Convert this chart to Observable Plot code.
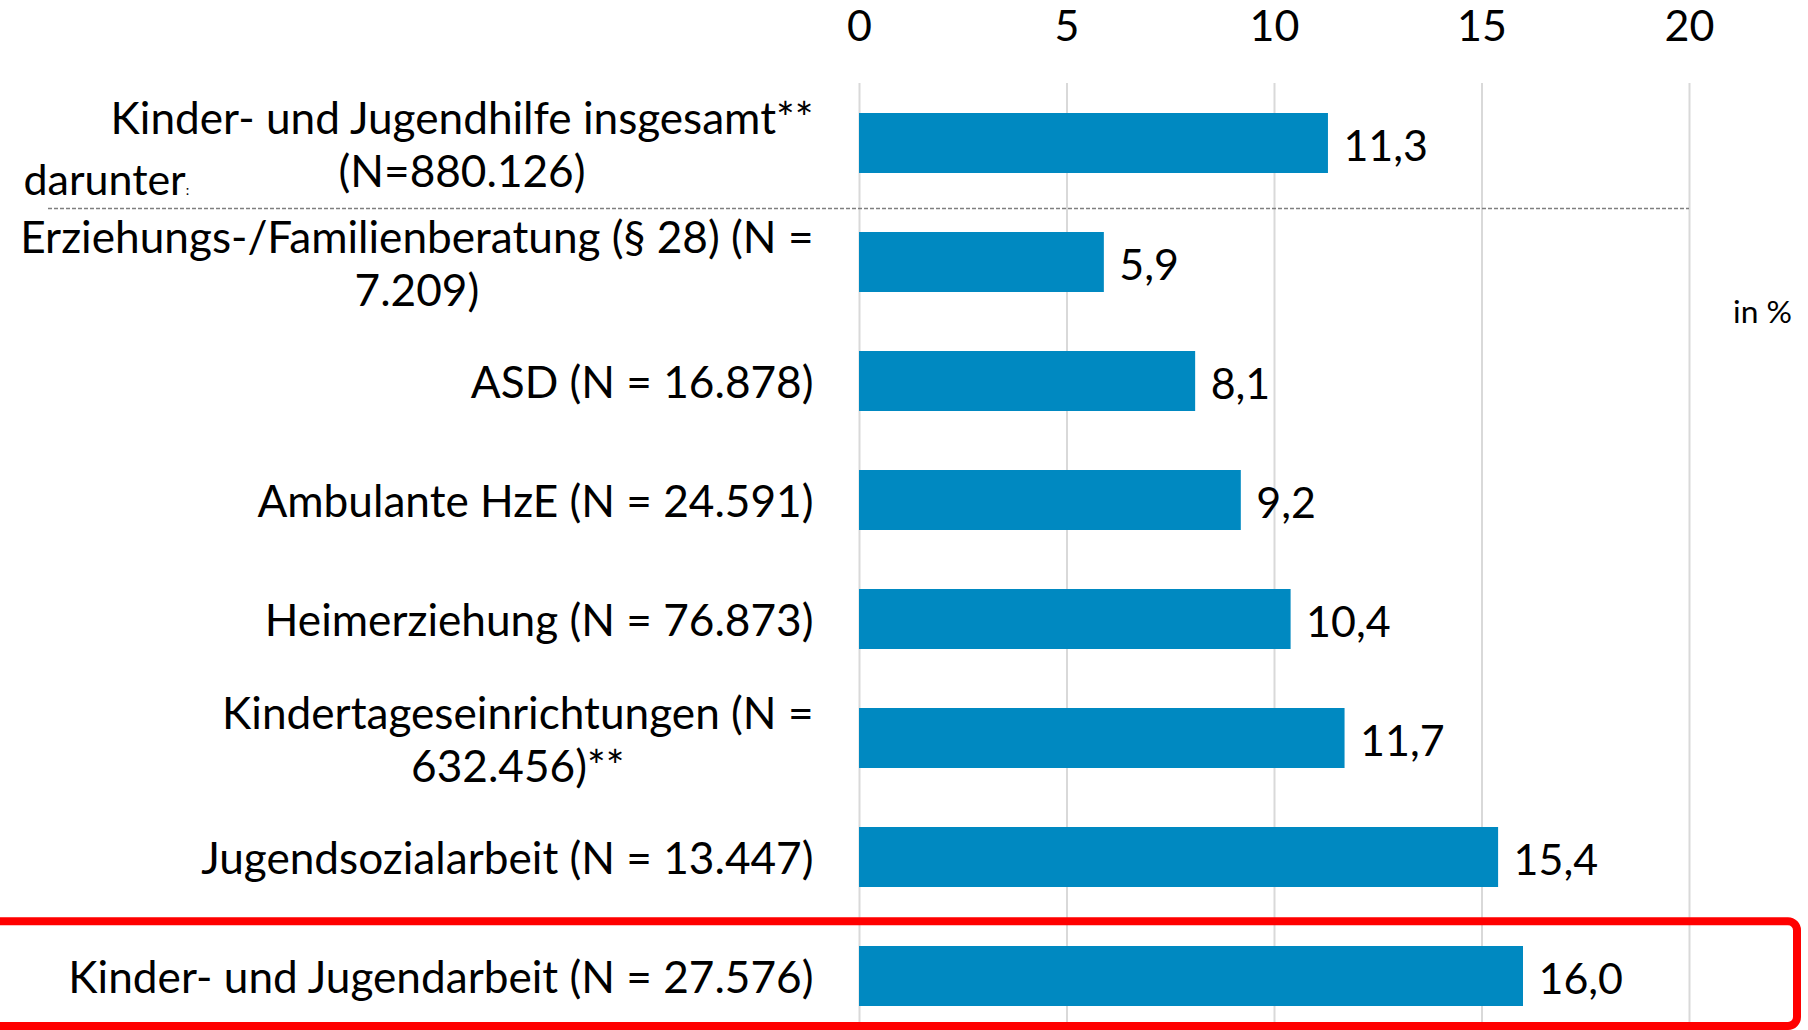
<!DOCTYPE html>
<html>
<head>
<meta charset="utf-8">
<script src="https://cdn.jsdelivr.net/npm/d3@7"></script>
<script src="https://cdn.jsdelivr.net/npm/@observablehq/plot@0.6"></script>
<style>
  html, body { margin: 0; padding: 0; background: #fff; }
  #chart { position: relative; width: 1808px; height: 1030px; overflow: hidden; background: #fff; }
  #chart svg { display: block; }
</style>
</head>
<body>
<div id="chart"></div>
<script>
// ---- data ----
const categories = [
  "Kinder- und Jugendhilfe insgesamt**\n(N=880.126)",
  "Erziehungs-/Familienberatung (§ 28) (N =\n7.209)",
  "ASD (N = 16.878)",
  "Ambulante HzE (N = 24.591)",
  "Heimerziehung (N = 76.873)",
  "Kindertageseinrichtungen (N =\n632.456)**",
  "Jugendsozialarbeit (N = 13.447)",
  "Kinder- und Jugendarbeit (N = 27.576)"
];
const values = [11.3, 5.9, 8.1, 9.2, 10.4, 11.7, 15.4, 16.0];
const xTicks = [0, 5, 10, 15, 20];
const xDomain = [0, 20];
const highlighted = ["Kinder- und Jugendarbeit (N = 27.576)"];
const separatorAfter = ["Kinder- und Jugendhilfe insgesamt**\n(N=880.126)"];
const unitLabel = ["in %"];
const groupLabel = ["darunter"];

// ---- layout / style ----
const W = 1808, H = 1030;
const FONT = "Lato, 'Open Sans', 'Noto Sans', sans-serif";
const X0 = 859, X1 = 1689;
const TOP = 83;

// fit font size so text widths match the reference (Calibri-like metrics)
const ctx = document.createElement("canvas").getContext("2d");
ctx.font = `100px ${FONT}`;
const w100 = ctx.measureText("Kinder- und Jugendhilfe insgesamt**").width;
const k = (715 / w100) * 100 / 48;   // scale relative to 48px Calibri
const fsLabel = 47.3 * k;
const fsTick = 46 * k;
const fsValue = 46 * k;
const fsUnit = 34 * k;
const fsGroup = 46 * k;

const rows = categories.map((c, i) => ({cat: c, v: values[i]}));
const fmt = v => v.toFixed(1).replace(".", ",");

const chart = Plot.plot({
  width: W,
  height: H,
  marginLeft: X0,
  marginRight: W - X1,
  marginTop: TOP,
  marginBottom: 0,
  style: {fontFamily: FONT, background: "#fff", color: "#000", overflow: "visible"},
  x: {domain: xDomain, axis: null, label: null},
  y: {domain: categories, range: [TOP, TOP + 952], paddingInner: 0.5, paddingOuter: 0.25, axis: null},
  marks: [
    Plot.gridX(xTicks, {stroke: "#d9d9d9", strokeOpacity: 1, strokeWidth: 2}),
    Plot.axisX(xTicks, {anchor: "top", label: null, tickSize: 0, tickPadding: 43, fontSize: fsTick, tickFormat: d => String(d), fill: "#000"}),
    Plot.barX(rows, {x: "v", y: "cat", fill: "#0089c1"}),
    Plot.text(rows, {x: "v", y: "cat", text: d => fmt(d.v), textAnchor: "start", dx: 15, dy: 4, fontSize: fsValue, fill: "#000"}),
    Plot.text(rows, {y: "cat", text: "cat", frameAnchor: "left", textAnchor: "end", dx: -46, fontSize: fsLabel, lineHeight: 53 / fsLabel, fill: "#000"}),
    Plot.ruleY(separatorAfter, {y: d => d, dy: 65, insetLeft: -(X0 - 48), stroke: "#7f7f7f", strokeWidth: 1.5, strokeDasharray: "4,2"}),
    Plot.barX(highlighted, {x1: () => xDomain[0], x2: () => xDomain[1], y: d => d,
      insetLeft: -(X0 + 10), insetRight: -(1797 - X1), insetTop: -24.75, insetBottom: -20,
      fill: "none", stroke: "#ff0000", strokeWidth: 8, rx: 9}),
    Plot.text(unitLabel, {frameAnchor: "top-right", text: d => d, textAnchor: "middle", lineAnchor: "middle", dx: 73, dy: 229, fontSize: fsUnit, fill: "#000"}),
    Plot.text(groupLabel, {frameAnchor: "top-left", text: d => d, textAnchor: "start", lineAnchor: "middle", dx: -(X0 - 23), dy: 98, fontSize: fsGroup, fill: "#000"})
  ]
});

document.getElementById("chart").appendChild(chart);

// center the wrapped lines of each category label within its (right-aligned) block
chart.querySelectorAll("text").forEach(t => {
  const spans = t.querySelectorAll("tspan");
  if (spans.length > 1) {
    let wmax = 0;
    spans.forEach(s => { wmax = Math.max(wmax, s.getComputedTextLength()); });
    t.setAttribute("text-anchor", "middle");
    spans.forEach(s => s.setAttribute("x", -wmax / 2));
  }
  if (t.textContent === groupLabel[0]) {
    const c = document.createElementNS("http://www.w3.org/2000/svg", "tspan");
    c.setAttribute("font-size", 14);
    c.textContent = ":";
    t.appendChild(c);
  }
});
</script>
</body>
</html>
